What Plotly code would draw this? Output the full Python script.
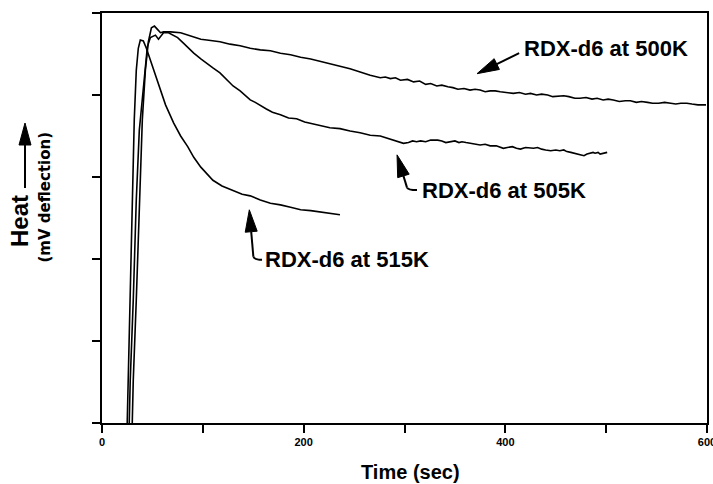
import plotly.graph_objects as go

# ---------------- data ----------------
t_500 = [30, 31, 34, 37, 40, 43, 46, 49, 52, 55, 58, 61, 68, 78, 85, 91, 98, 104, 111, 117,
         127, 137, 147, 157, 167, 177, 187, 197, 207, 217, 226, 236, 246, 256, 266, 276,
         281, 286, 291, 296, 303, 309, 315, 321, 326, 332, 337, 343, 348, 353, 359, 365,
         370, 375, 380, 385, 390, 395, 402, 408, 414, 420, 425, 431, 436, 442, 447, 453,
         458, 463, 469, 474, 480, 486, 491, 497, 502, 507, 513, 519, 524, 530, 535, 541,
         546, 552, 558, 564, 569, 574, 580, 585, 591, 599]
h_500 = [0.0, 0.52, 1.50, 2.72, 3.70, 4.30, 4.65, 4.82, 4.84, 4.80, 4.76, 4.77, 4.77, 4.76,
         4.73, 4.71, 4.68, 4.67, 4.66, 4.65, 4.62, 4.60, 4.57, 4.55, 4.54, 4.51, 4.49, 4.46,
         4.44, 4.41, 4.38, 4.35, 4.32, 4.28, 4.24, 4.21, 4.22, 4.20, 4.21, 4.18, 4.19, 4.16,
         4.17, 4.13, 4.14, 4.11, 4.12, 4.10, 4.09, 4.07, 4.08, 4.06, 4.07, 4.06, 4.04, 4.05,
         4.05, 4.04, 4.03, 4.02, 4.03, 4.01, 4.02, 4.00, 4.01, 4.00, 3.98, 3.99, 3.99, 3.98,
         3.96, 3.96, 3.97, 3.95, 3.96, 3.94, 3.95, 3.94, 3.92, 3.93, 3.93, 3.91, 3.92, 3.91,
         3.90, 3.90, 3.91, 3.90, 3.89, 3.90, 3.90, 3.89, 3.88, 3.88]

t_505 = [27, 28, 31, 34, 37, 41, 45, 48, 53, 56, 59, 61, 66, 70, 75, 81, 86, 91, 98, 104,
         110, 117, 124, 130, 137, 143, 147, 152, 157, 163, 169, 177, 185, 193, 201, 209,
         217, 226, 236, 246, 256, 266, 276, 286, 294, 299, 304, 308, 312, 316, 321, 326,
         333, 337, 341, 346, 350, 354, 357, 361, 365, 370, 375, 380, 385, 391, 398, 402,
         407, 411, 415, 420, 425, 428, 432, 436, 440, 445, 450, 454, 458, 461, 465, 469,
         472, 475, 478, 481, 484, 487, 489, 492, 494, 497, 501]
h_505 = [0.0, 0.52, 1.50, 2.72, 3.57, 4.06, 4.59, 4.70, 4.73, 4.68, 4.73, 4.76, 4.76, 4.73,
         4.70, 4.63, 4.57, 4.51, 4.44, 4.39, 4.33, 4.27, 4.18, 4.11, 4.05, 3.99, 3.94, 3.91,
         3.87, 3.83, 3.79, 3.76, 3.72, 3.71, 3.67, 3.65, 3.63, 3.60, 3.59, 3.56, 3.54, 3.51,
         3.50, 3.46, 3.43, 3.41, 3.42, 3.44, 3.43, 3.44, 3.43, 3.45, 3.45, 3.44, 3.42, 3.43,
         3.44, 3.42, 3.43, 3.42, 3.41, 3.40, 3.39, 3.40, 3.38, 3.38, 3.35, 3.36, 3.37, 3.35,
         3.34, 3.36, 3.35, 3.35, 3.36, 3.34, 3.33, 3.32, 3.33, 3.32, 3.33, 3.31, 3.30, 3.29,
         3.28, 3.27, 3.26, 3.28, 3.29, 3.30, 3.29, 3.30, 3.28, 3.29, 3.30]

t_515 = [25, 26, 28, 30, 32, 34, 36, 38, 41, 44, 49, 55, 63, 71, 78, 85, 91, 98, 104, 110,
         119, 130, 139, 147, 157, 167, 177, 187, 197, 207, 217, 226, 236]
h_515 = [0.0, 0.52, 1.50, 2.72, 3.70, 4.30, 4.57, 4.67, 4.66, 4.57, 4.39, 4.15, 3.88, 3.66,
         3.50, 3.37, 3.24, 3.12, 3.04, 2.96, 2.89, 2.84, 2.79, 2.77, 2.72, 2.68, 2.66, 2.63,
         2.60, 2.59, 2.57, 2.56, 2.54]

x_ticks = [0, 100, 200, 300, 400, 500, 600]
x_tick_text = ['0', '', '200', '', '400', '', '600']
y_ticks = [0, 1, 2, 3, 4, 5]

labels = ['RDX-d6 at 500K', 'RDX-d6 at 505K', 'RDX-d6 at 515K']
label_pos = [(416.5, 4.57), (315.7, 2.83), (160.0, 1.99)]
# arrows: (tail, tip) and optional hook end (where the text begins)
arrow_500 = ((413.7, 4.51), (371.9, 4.26))
arrow_505 = ((302.5, 2.87), (292.6, 3.27))
hook_505 = (312.4, 2.84)
arrow_515 = ((150.1, 2.03), (146.1, 2.60))
hook_515 = (158.7, 1.99)

# ---------------- layout geometry ----------------
W, H = 713, 484
ML, MR, MT, MB = 102, 6, 13, 61
PW = W - ML - MR
PH = H - MT - MB
XR = [0, 600]
YR = [0, 5]
SX = PW / (XR[1] - XR[0])
SY = PH / (YR[1] - YR[0])

FONT = 'Arial, Liberation Sans, sans-serif'


def arrow_shapes(tail, tip, sx, sy, ref_x, ref_y, head_len=22, half_w=6, lw=2):
    dxp = (tip[0] - tail[0]) * sx
    dyp = (tip[1] - tail[1]) * sy
    L = (dxp ** 2 + dyp ** 2) ** 0.5
    ux, uy = dxp / L, dyp / L
    bx = tip[0] - ux * head_len / sx
    by = tip[1] - uy * head_len / sy
    px, py = -uy, ux
    p1 = (bx + px * half_w / sx, by + py * half_w / sy)
    p2 = (bx - px * half_w / sx, by - py * half_w / sy)
    shaft = dict(type='line', xref=ref_x, yref=ref_y, x0=tail[0], y0=tail[1],
                 x1=bx, y1=by, line=dict(color='black', width=lw))
    head = dict(type='path', xref=ref_x, yref=ref_y,
                path=f'M {tip[0]},{tip[1]} L {p1[0]},{p1[1]} L {p2[0]},{p2[1]} Z',
                fillcolor='black', line=dict(color='black', width=1))
    return [shaft, head]


def hook_shape(start, end):
    cx, cy = start[0] + 1.0, end[1]
    return dict(type='path', xref='x', yref='y',
                path=f'M {start[0]},{start[1]} Q {cx},{cy} {end[0]},{end[1]}',
                line=dict(color='black', width=2))


fig = go.Figure()
for t, h in [(t_500, h_500), (t_505, h_505), (t_515, h_515)]:
    fig.add_trace(go.Scatter(x=t, y=h, mode='lines',
                             line=dict(color='black', width=1.6),
                             showlegend=False, hoverinfo='skip'))

shapes = []
shapes += arrow_shapes(arrow_500[0], arrow_500[1], SX, SY, 'x', 'y')
shapes += arrow_shapes(arrow_505[0], arrow_505[1], SX, SY, 'x', 'y')
shapes += arrow_shapes(arrow_515[0], arrow_515[1], SX, SY, 'x', 'y')
shapes.append(hook_shape(arrow_505[0], hook_505))
shapes.append(hook_shape(arrow_515[0], hook_515))
# arrow next to the y title (paper coordinates)
heat_tail = ((25 - ML) / PW, (MT + PH - 188) / PH)
heat_tip = ((25 - ML) / PW, (MT + PH - 123) / PH)
shapes += arrow_shapes(heat_tail, heat_tip, PW, PH, 'paper', 'paper')

annotations = []
for txt, (x, y) in zip(labels, label_pos):
    annotations.append(dict(x=x, y=y, xref='x', yref='y', text=txt, showarrow=False,
                            xanchor='left', yanchor='middle',
                            font=dict(family=FONT, size=22, color='black', weight='bold')))

annotations.append(dict(x=(410.5 - ML) / PW, y=(MT + PH - 472) / PH, xref='paper', yref='paper',
                        text='Time (sec)', showarrow=False, xanchor='center', yanchor='middle',
                        font=dict(family=FONT, size=20, color='black', weight='bold')))
annotations.append(dict(x=(19 - ML) / PW, y=(MT + PH - 221) / PH, xref='paper', yref='paper',
                        text='Heat', showarrow=False, textangle=-90,
                        xanchor='center', yanchor='middle',
                        font=dict(family=FONT, size=24, color='black', weight='bold')))
annotations.append(dict(x=(44.5 - ML) / PW, y=(MT + PH - 197) / PH, xref='paper', yref='paper',
                        text='(mV deflection)', showarrow=False, textangle=-90,
                        xanchor='center', yanchor='middle',
                        font=dict(family='DejaVu Sans', size=15, color='black', weight='bold')))

fig.update_layout(
    width=W, height=H,
    margin=dict(l=ML, r=MR, t=MT, b=MB, pad=0),
    paper_bgcolor='white', plot_bgcolor='white',
    shapes=shapes, annotations=annotations,
    xaxis=dict(range=XR, tickvals=x_ticks, ticktext=x_tick_text, ticks='outside',
               ticklen=8, tickwidth=2, tickcolor='black', showline=True, linewidth=2,
               linecolor='black', mirror=True, showgrid=False, zeroline=False,
               automargin=False, ticklabeloverflow='allow',
               tickfont=dict(family=FONT, size=11, color='black', weight='bold')),
    yaxis=dict(range=YR, tickvals=y_ticks, ticks='outside', ticklen=8, tickwidth=2,
               tickcolor='black', showticklabels=False, showline=True, linewidth=2,
               linecolor='black', mirror=True, showgrid=False, zeroline=False,
               automargin=False),
)

fig.write_html('out.html', config={'displayModeBar': False},
               post_script="document.body.style.margin='0';document.body.style.overflow='hidden';")
